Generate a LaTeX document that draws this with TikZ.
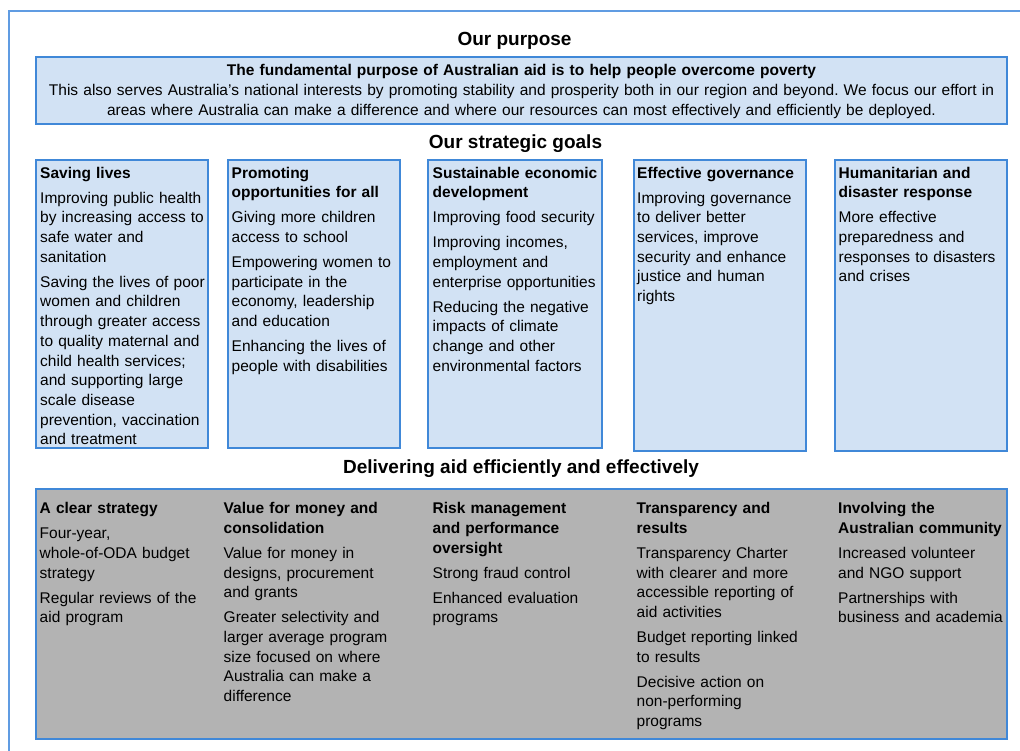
\documentclass[tikz,border=0pt]{standalone}
\usepackage{fontspec}
\setmainfont{Liberation Sans}
\frenchspacing
\definecolor{frameblue}{RGB}{96,156,226}
\definecolor{boxblue}{RGB}{64,136,216}
\definecolor{boxfill}{RGB}{210,226,244}
\definecolor{panelgrey}{RGB}{179,179,179}
\newcommand{\bodyfont}{\fontsize{15.5}{19.7}\selectfont}
\newcommand{\pgap}{\\[5.3pt]}
\tikzset{
  goalbox/.style={draw=boxblue, fill=boxfill, line width=1.2pt},
  greybox/.style={draw=boxblue, fill=panelgrey, line width=1.2pt},
  sectiontitle/.style={anchor=base, inner sep=0pt, font=\bfseries\fontsize{19}{23}\selectfont},
  coltext/.style={anchor=north west, inner sep=0pt, text width=200pt, align=left,
                  font=\bodyfont, execute at begin node={\strut}},
}
\begin{document}
\begin{tikzpicture}[x=1pt,y=-1pt]
\useasboundingbox (0,0) rectangle (1020,751);
\fill[white] (0,0) rectangle (1020,751);

% outer frame
\draw[frameblue, line width=1.2pt] (9,752) -- (9,11) -- (1021,11);

% section titles
\node[sectiontitle] (tpurpose) at (514.5,45.5) {Our purpose};
\node[sectiontitle] (tgoals) at (515.5,149) {Our strategic goals};
\node[sectiontitle] (tdeliver) at (521,473) {Delivering aid efficiently and effectively};

% purpose box
\draw[goalbox] (36,57) rectangle (1007,124);
\node[anchor=north, inner sep=0pt, text width=1000pt, align=center, font=\bodyfont,
      execute at begin node={\strut}] (purpose) at (521.5,61.7)
  {\textbf{The fundamental purpose of Australian aid is to help people overcome poverty}\\
   This also serves Australia's national interests by promoting stability and prosperity both in our region and beyond. We focus our effort in\\
   areas where Australia can make a difference and where our resources can most effectively and efficiently be deployed.};

% strategic goal boxes
\draw[goalbox] (36,160) rectangle (208,448);
\draw[goalbox] (228,160) rectangle (400,448);
\draw[goalbox] (428,160) rectangle (602,448);
\draw[goalbox] (634,160) rectangle (806,451);
\draw[goalbox] (835,160) rectangle (1007,451);

\node[coltext] (g1) at (40,164.2) {\textbf{Saving lives}\pgap
  Improving public health\\ by increasing access to\\ safe water and\\ sanitation\pgap
  Saving the lives of poor\\ women and children\\ through greater access\\ to quality maternal and\\ child health services;\\ and supporting large\\ scale disease\\ prevention, vaccination\\ and treatment};
\node[coltext] (g2) at (231.5,164.2) {\textbf{Promoting}\\ \textbf{opportunities for all}\pgap
  Giving more children\\ access to school\pgap
  Empowering women to\\ participate in the\\ economy, leadership\\ and education\pgap
  Enhancing the lives of\\ people with disabilities};
\node[coltext] (g3) at (432.5,164.2) {\textbf{Sustainable economic}\\ \textbf{development}\pgap
  Improving food security\pgap
  Improving incomes,\\ employment and\\ enterprise opportunities\pgap
  Reducing the negative\\ impacts of climate\\ change and other\\ environmental factors};
\node[coltext] (g4) at (637,164.2) {\textbf{Effective governance}\pgap
  Improving governance\\ to deliver better\\ services, improve\\ security and enhance\\ justice and human\\ rights};
\node[coltext] (g5) at (838.5,164.2) {\textbf{Humanitarian and}\\ \textbf{disaster response}\pgap
  More effective\\ preparedness and\\ responses to disasters\\ and crises};

% delivery panel
\draw[greybox] (36,489) rectangle (1007,739);

\node[coltext] (d1) at (39.5,499.7) {\textbf{A clear strategy}\pgap
  Four-year,\\ whole-of-ODA budget\\ strategy\pgap
  Regular reviews of the\\ aid program};
\node[coltext] (d2) at (223.5,499.7) {\textbf{Value for money and}\\ \textbf{consolidation}\pgap
  Value for money in\\ designs, procurement\\ and grants\pgap
  Greater selectivity and\\ larger average program\\ size focused on where\\ Australia can make a\\ difference};
\node[coltext] (d3) at (432.5,499.7) {\textbf{Risk management}\\ \textbf{and performance}\\ \textbf{oversight}\pgap
  Strong fraud control\pgap
  Enhanced evaluation\\ programs};
\node[coltext] (d4) at (636.5,499.7) {\textbf{Transparency and}\\ \textbf{results}\pgap
  Transparency Charter\\ with clearer and more\\ accessible reporting of\\ aid activities\pgap
  Budget reporting linked\\ to results\pgap
  Decisive action on\\ non-performing\\ programs};
\node[coltext] (d5) at (838,499.7) {\textbf{Involving the}\\ \textbf{Australian community}\pgap
  Increased volunteer\\ and NGO support\pgap
  Partnerships with\\ business and academia};
\end{tikzpicture}
\end{document}
